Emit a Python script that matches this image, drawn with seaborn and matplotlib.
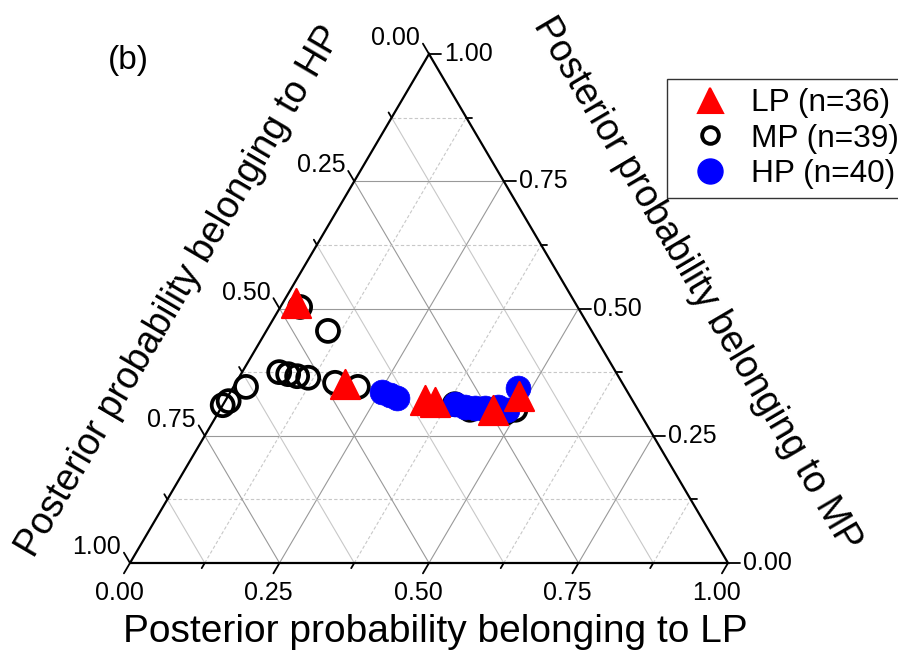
import numpy as np
import pandas as pd
import matplotlib
matplotlib.use("Agg")
import matplotlib.pyplot as plt
from matplotlib.lines import Line2D
import seaborn as sns

# ---- data (ternary compositions) ----
lp_group_LP = [0.022, 0.184, 0.333, 0.352, 0.457, 0.487]
lp_group_MP = [0.511, 0.352, 0.320, 0.316, 0.301, 0.328]

mp_group_LP = [0.033, 0.103, 0.062, 0.079, 0.096, 0.116, 0.021, 0.006, 0.000,
               0.166, 0.208, 0.387, 0.418, 0.450, 0.480, 0.494]
mp_group_MP = [0.503, 0.456, 0.375, 0.371, 0.367, 0.364, 0.346, 0.318, 0.310,
               0.354, 0.346, 0.312, 0.301, 0.298, 0.295, 0.301]

hp_group_LP = [0.253, 0.270, 0.284, 0.387, 0.407, 0.425, 0.441, 0.462, 0.480, 0.477]
hp_group_MP = [0.336, 0.330, 0.324, 0.312, 0.306, 0.305, 0.305, 0.306, 0.301, 0.344]

legend_labels = ["LP (n=36)", "MP (n=39)", "HP (n=40)"]
tick_values = [0.0, 0.25, 0.5, 0.75, 1.0]
tick_labels = ["0.00", "0.25", "0.50", "0.75", "1.00"]
xlabel_bottom = "Posterior probability belonging to LP"
xlabel_left = "Posterior probability belonging to HP"
xlabel_right = "Posterior probability belonging to MP"
panel_label = "(b)"

sns.set_style("white")
plt.rcParams["font.family"] = ["Liberation Sans", "DejaVu Sans"]
plt.rcParams["text.color"] = "black"

W, H = 898, 658
fig = plt.figure(figsize=(W / 100, H / 100), dpi=100)
# triangle bounding box in pixels: left 130, right 728, top 54, bottom 563
L, R, T, B = 130, 728, 54, 563
ax = fig.add_axes([L / W, 1 - B / H, (R - L) / W, (B - T) / H])
ax.set_xlim(0, 1)
ax.set_ylim(0, 1)
ax.axis("off")
px_x = 1.0 / (R - L)
px_y = 1.0 / (B - T)


def tern(lp, mp):
    lp = np.asarray(lp, float)
    mp = np.asarray(mp, float)
    return lp + mp / 2.0, mp


# ---- grid lines ----
major_c = "#999999"
minor_c = "#c8c8c8"
for t in np.arange(0.125, 1.0, 0.125):
    major = abs((t / 0.25) - round(t / 0.25)) < 1e-9
    # constant LP
    x0, y0 = tern(t, 0)
    x1, y1 = tern(t, 1 - t)
    ax.plot([x0, x1], [y0, y1], color=major_c if major else minor_c,
            lw=0.8, ls="-" if major else (0, (3, 2)), zorder=1)
    # constant MP
    x0, y0 = tern(0, t)
    x1, y1 = tern(1 - t, t)
    ax.plot([x0, x1], [y0, y1], color=major_c if major else minor_c,
            lw=0.8, ls="-" if major else (0, (3, 2)), zorder=1)
    # constant HP
    x0, y0 = tern(1 - t, 0)
    x1, y1 = tern(0, 1 - t)
    ax.plot([x0, x1], [y0, y1], color=major_c if major else minor_c,
            lw=0.8, ls="-", zorder=1)

# ---- triangle frame ----
ax.plot([0, 1, 0.5, 0], [0, 0, 1, 0], color="black", lw=1.6, zorder=2,
        clip_on=False, solid_joinstyle="miter")

# ---- ticks ----
maj_len = 12
min_len = 6
for t in np.arange(0, 1.0001, 0.125):
    major = abs((t / 0.25) - round(t / 0.25)) < 1e-9
    ln = maj_len if major else min_len
    # bottom (LP): direction down-left along constant-LP lines
    x0, y0 = tern(t, 0)
    d = np.array([-0.5 * (R - L), -(B - T)])
    d = d / np.hypot(*d) * ln
    ax.plot([x0, x0 + d[0] * px_x], [y0, y0 + d[1] * px_y], color="black",
            lw=1.3, clip_on=False, zorder=2)
    # right (MP): horizontal to the right
    x0, y0 = tern(1 - t, t)
    ax.plot([x0, x0 + ln * px_x], [y0, y0], color="black", lw=1.3,
            clip_on=False, zorder=2)
    # left (HP): direction up-left along constant-HP lines
    x0, y0 = tern(0, 1 - t)
    d = np.array([-0.5 * (R - L), (B - T)])
    d = d / np.hypot(*d) * ln
    ax.plot([x0, x0 + d[0] * px_x], [y0, y0 + d[1] * px_y], color="black",
            lw=1.3, clip_on=False, zorder=2)

tick_fs = 18
for v, lab in zip(tick_values, tick_labels):
    x0, y0 = tern(v, 0)
    ax.text(x0 - 11 * px_x, y0 - 30 * px_y, lab, ha="center", va="center",
            fontsize=tick_fs)
    x0, y0 = tern(1 - v, v)
    ax.text(x0 + 15 * px_x, y0, lab, ha="left", va="center", fontsize=tick_fs)
    x0, y0 = tern(0, 1 - v)
    ax.text(x0 - 9 * px_x, y0 + 16 * px_y, lab, ha="right", va="center",
            fontsize=tick_fs)

# ---- points ----
df_mp = pd.DataFrame({"x": tern(mp_group_LP, mp_group_MP)[0],
                      "y": tern(mp_group_LP, mp_group_MP)[1]})
df_hp = pd.DataFrame({"x": tern(hp_group_LP, hp_group_MP)[0],
                      "y": tern(hp_group_LP, hp_group_MP)[1]})
df_lp = pd.DataFrame({"x": tern(lp_group_LP, lp_group_MP)[0],
                      "y": tern(lp_group_LP, lp_group_MP)[1]})

sns.scatterplot(data=df_mp, x="x", y="y", ax=ax, marker="o", s=250,
                facecolors="none", edgecolor="black", linewidth=2.7,
                clip_on=False, zorder=3, legend=False)
sns.scatterplot(data=df_hp, x="x", y="y", ax=ax, marker="o", s=320,
                color="#0000ff", edgecolor="#0000ff", linewidth=0.5,
                clip_on=False, zorder=4, legend=False)
sns.scatterplot(data=df_lp, x="x", y="y", ax=ax, marker="^", s=440,
                color="#ff0000", edgecolor="#ff0000", linewidth=1.5,
                clip_on=False, zorder=5, legend=False)
ax.set_xlim(0, 1)
ax.set_ylim(0, 1)
ax.axis("off")

# ---- axis titles ----
fig.text(435 / W, 1 - 632 / H, xlabel_bottom, ha="center", va="center",
         fontsize=28)
ang = np.degrees(np.arctan2(B - T, (R - L) / 2))
fig.text(180 / W, 1 - 291 / H, xlabel_left, ha="center", va="center",
         rotation=ang, rotation_mode="anchor", fontsize=27)
fig.text(697 / W, 1 - 284 / H, xlabel_right, ha="center", va="center",
         rotation=-ang, rotation_mode="anchor", fontsize=27)
fig.text(128 / W, 1 - 61 / H, panel_label, ha="center", va="center",
         fontsize=24)

# ---- legend ----
handles = [
    Line2D([], [], ls="none", marker="^", ms=18, color="#ff0000",
           markeredgewidth=1.5),
    Line2D([], [], ls="none", marker="o", ms=12, markerfacecolor="none",
           markeredgecolor="black", markeredgewidth=2.8),
    Line2D([], [], ls="none", marker="o", ms=18, color="#0000ff"),
]
leg = fig.legend(handles, legend_labels, loc="upper left",
                 bbox_to_anchor=(667 / W, 1 - 79 / H), fontsize=22.8,
                 frameon=True, fancybox=False, edgecolor="black",
                 handlelength=2.1, handletextpad=0.25, borderpad=0.3,
                 labelspacing=0.16, borderaxespad=0)
leg.get_frame().set_linewidth(1.0)

fig.savefig("out.png", dpi=100)
